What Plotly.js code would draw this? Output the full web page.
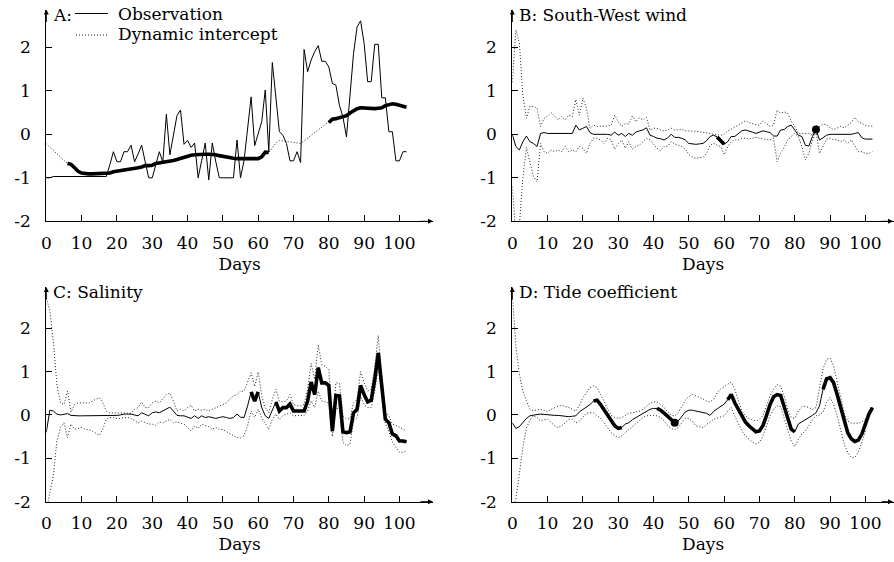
<!DOCTYPE html>
<html><head><meta charset="utf-8">
<script src="https://cdn.plot.ly/plotly-3.0.1.min.js"></script>
<style>html,body{margin:0;padding:0;background:#fff}</style>
</head><body><div id="chart" style="width:894px;height:562px"></div>
<script>
// ---------- DATA (daily values, day 0 .. 102) ----------
const obsA = [-1.0,-1.0,-0.97,-0.97,-0.97,-0.97,-0.97,-0.97,-0.97,-0.97,-0.97,-0.97,-0.97,-0.97,-0.97,-0.97,-0.97,-0.97,-0.7,-0.4,
-0.63,-0.63,-0.4,-0.4,-0.25,-0.63,-0.45,-0.25,-0.63,-1.0,-1.0,-0.67,-0.4,-0.63,0.46,-0.47,0.02,0.43,0.56,-0.23,
-0.14,-0.3,-0.2,-1.0,-0.6,-0.2,-1.05,-0.2,-0.63,-1.0,-1.0,-1.0,-1.0,-1.0,-0.13,-1.0,-0.6,0.15,0.86,-0.26,
0.02,0.29,1.02,-0.4,1.65,0.79,0.06,-0.02,-0.21,-0.61,-0.61,-0.4,-0.65,1.95,1.44,1.71,1.9,2.04,1.68,1.68,
1.55,1.17,1.13,0.67,0.4,-0.06,0.94,1.86,2.47,2.61,2.09,1.21,1.21,2.07,2.07,0.84,0.84,0.06,0.06,-0.61,
-0.61,-0.4,-0.4];
const interceptA = [-0.22,-0.3,-0.37,-0.45,-0.52,-0.6,-0.67,-0.69,-0.77,-0.85,-0.89,-0.91,-0.91,-0.91,-0.91,-0.91,-0.91,-0.91,-0.89,-0.86,
-0.85,-0.84,-0.83,-0.82,-0.8,-0.79,-0.77,-0.75,-0.72,-0.72,-0.71,-0.67,-0.66,-0.65,-0.64,-0.62,-0.6,-0.58,-0.55,-0.52,
-0.5,-0.48,-0.47,-0.46,-0.46,-0.46,-0.46,-0.46,-0.47,-0.49,-0.51,-0.53,-0.54,-0.55,-0.56,-0.56,-0.56,-0.56,-0.56,-0.56,
-0.56,-0.52,-0.41,-0.42,-0.3,-0.2,-0.14,-0.15,-0.17,-0.18,-0.19,-0.2,-0.21,-0.15,-0.09,-0.03,0.03,0.09,0.15,0.21,
0.27,0.35,0.36,0.38,0.4,0.43,0.49,0.55,0.59,0.61,0.6,0.59,0.59,0.59,0.6,0.61,0.66,0.69,0.7,0.69,
0.67,0.65,0.62];
const sigA = [[6,63],[80,102]];

const estB = [0,-0.28,-0.36,-0.17,-0.04,-0.17,-0.21,-0.28,0.02,0.04,0.02,0.02,0.02,0.02,0.02,0.02,0.02,0.02,0.21,0.1,
0.14,0.18,0.04,0,0,0,0,0,-0.02,0.05,-0.02,0.02,-0.05,0.02,-0.02,0.05,0.08,0.1,0.15,-0.02,
-0.05,-0.09,-0.1,-0.13,-0.08,0,-0.07,-0.07,-0.09,-0.13,-0.21,-0.22,-0.23,-0.22,-0.21,-0.15,-0.05,-0.02,-0.06,-0.15,
-0.23,-0.17,-0.05,-0.05,0.02,0.08,0.1,0.08,0.05,0.02,0.05,0.08,0.06,0.04,-0.04,-0.04,0.1,0.11,0.18,0.21,
0.1,-0.02,-0.05,-0.25,-0.27,-0.05,0.11,-0.13,-0.08,-0.02,0,0,0,0.01,0,0.01,0,0.02,0.04,-0.08,
-0.11,-0.11,-0.11];
const upperB = [1.2,2.4,2.1,0.9,0.37,0.65,0.64,0.6,0.18,0.37,0.42,0.5,0.42,0.33,0.41,0.33,0.44,0.41,0.8,0.44,
0.83,0.6,0.14,0.21,0.18,0.18,0.18,0.19,0.21,0.44,0.29,0.18,0.24,0.24,0.42,0.29,0.38,0.33,0.39,0.1,
0.14,0.14,0.1,0.08,0.1,0.14,0.1,0.1,0.11,0.08,0.08,0.07,0.07,0.06,0.05,0.04,0.02,0.0,-0.01,-0.02,
0.0,0.08,0.12,0.17,0.21,0.26,0.31,0.27,0.24,0.22,0.21,0.31,0.25,0.18,0.21,0.56,0.48,0.52,0.48,0.3,
0.18,0.02,0.02,0.02,0.02,-0.02,0.2,0.18,0.24,0.22,0.14,0.11,0.14,0.18,0.15,0.21,0.27,0.39,0.29,0.25,
0.21,0.19,0.19];
const lowerB = [-1.2,-2.3,-2.1,-1.0,-0.3,-0.67,-0.97,-1.09,-0.21,-0.4,-0.44,-0.36,-0.4,-0.36,-0.4,-0.28,-0.4,-0.36,-0.4,-0.28,
-0.32,-0.44,-0.21,-0.09,-0.09,-0.13,-0.21,-0.09,-0.13,-0.34,-0.21,-0.13,-0.32,-0.17,-0.34,-0.28,-0.25,-0.17,-0.09,-0.13,
-0.23,-0.32,-0.38,-0.28,-0.27,-0.17,-0.22,-0.25,-0.28,-0.34,-0.47,-0.52,-0.55,-0.54,-0.53,-0.44,-0.25,-0.21,-0.24,-0.28,
-0.47,-0.28,-0.17,-0.13,-0.13,-0.09,-0.09,-0.11,-0.09,-0.07,-0.09,-0.11,-0.12,-0.13,-0.09,-0.63,-0.44,-0.3,-0.13,-0.05,
0.02,-0.05,-0.28,-0.59,-0.44,-0.13,0.06,-0.44,-0.28,-0.11,-0.09,-0.13,-0.13,-0.17,-0.13,-0.21,-0.13,-0.28,-0.4,-0.4,
-0.44,-0.44,-0.4];
const sigB = [[58,60]];
const dotsB = [86];

const estC = [-0.4,0.11,0.09,0.02,0,0.02,0.03,-0.01,-0.02,-0.02,-0.02,-0.02,-0.02,-0.02,-0.02,-0.02,-0.02,-0.01,-0.02,-0.01,
-0.01,0,0.02,0.02,0.02,0,-0.02,0.05,0.02,-0.02,0.05,0.07,0.05,0.09,0.13,0.18,0.09,-0.01,-0.02,-0.02,
-0.05,-0.08,-0.02,-0.08,-0.02,-0.06,-0.04,-0.06,-0.08,-0.06,-0.04,-0.06,-0.08,-0.06,0.02,-0.05,-0.06,0.21,0.53,0.32,
0.53,0.17,-0.02,-0.08,0.13,0.3,0.09,0.17,0.17,0.25,0.09,0.09,0.09,0.09,0.32,0.76,0.47,1.09,0.74,0.74,
0.68,-0.37,0.45,0.44,-0.39,-0.41,-0.39,0.05,0.13,0.68,0.47,0.3,0.34,0.82,1.43,0.67,-0.1,-0.18,-0.44,-0.48,
-0.6,-0.6,-0.62];
const upperC = [2.7,2.4,1.7,0.7,0.28,0.24,0.55,0.07,0.24,0.28,0.28,0.28,0.27,0.32,0.37,0.4,0.28,0.09,0.05,0.05,
0.05,0.05,0.05,0.05,0.04,0.13,0.17,0.3,0.17,0.17,0.28,0.32,0.28,0.37,0.47,0.5,0.32,0.09,0.13,0.09,
0.17,0.22,0.09,0.13,0.11,0.13,0.09,0.13,0.17,0.21,0.24,0.28,0.36,0.44,0.47,0.55,0.55,0.74,0.97,0.66,
0.99,0.44,0.17,0.05,0.36,0.59,0.32,0.3,0.32,0.47,0.24,0.21,0.21,0.24,0.59,1.19,0.82,1.62,1.16,1.12,
1.05,-0.2,0.74,0.73,-0.02,-0.1,-0.08,0.28,0.36,1.0,0.74,0.55,0.59,1.09,1.83,0.89,0.05,-0.02,-0.21,-0.24,
-0.29,-0.33,-0.37];
const lowerC = [-2.2,-1.8,-1.4,-0.6,-0.3,-0.18,-0.52,-0.21,-0.33,-0.31,-0.29,-0.33,-0.34,-0.37,-0.42,-0.47,-0.33,-0.1,-0.06,-0.06,
-0.08,-0.08,-0.06,-0.06,-0.08,-0.14,-0.18,-0.14,-0.18,-0.21,-0.21,-0.24,-0.16,-0.18,-0.14,-0.1,-0.18,-0.16,-0.19,-0.21,
-0.29,-0.37,-0.25,-0.31,-0.21,-0.25,-0.27,-0.33,-0.29,-0.33,-0.34,-0.39,-0.44,-0.47,-0.52,-0.53,-0.47,-0.25,0.09,-0.06,
0.13,-0.06,-0.21,-0.33,-0.1,0.02,-0.1,-0.01,0.02,0.05,-0.02,-0.02,-0.02,-0.01,0.09,0.32,0.17,0.55,0.32,0.3,
0.28,-0.5,0.17,0.13,-0.63,-0.71,-0.67,-0.14,-0.06,0.43,0.24,0.17,0.17,0.55,1.09,0.47,-0.21,-0.37,-0.63,-0.75,
-0.86,-0.86,-0.83];
const sigC = [[58,60],[65,102]];

const estD = [-0.18,-0.31,-0.27,-0.18,-0.08,-0.02,0,0.01,0.02,0.01,0,0,-0.01,-0.01,-0.02,-0.03,-0.04,-0.03,-0.02,0.07,
0.13,0.17,0.24,0.32,0.34,0.24,0.11,-0.02,-0.15,-0.25,-0.31,-0.29,-0.21,-0.18,-0.11,-0.06,-0.01,0.03,0.09,0.13,
0.15,0.15,0.11,0.04,-0.04,-0.12,-0.18,-0.14,-0.02,0.07,0.11,0.11,0.09,0.07,0.06,0.04,-0.01,0.08,0.14,0.19,
0.25,0.35,0.47,0.28,0.13,-0.02,-0.16,-0.25,-0.33,-0.39,-0.37,-0.24,-0.01,0.24,0.42,0.47,0.45,0.17,-0.1,-0.33,
-0.39,-0.21,-0.16,-0.1,-0.06,-0.01,0.05,0.21,0.59,0.83,0.86,0.74,0.47,0.17,-0.14,-0.41,-0.55,-0.61,-0.58,-0.44,
-0.21,0.02,0.17];
const upperD = [2.8,1.6,0.95,0.55,0.33,0.13,0.1,0.12,0.13,0.11,0.07,0.13,0.17,0.2,0.22,0.2,0.17,0.13,0.09,0.22,
0.4,0.51,0.63,0.67,0.63,0.47,0.32,0.13,-0.01,-0.06,-0.08,-0.06,-0.01,0.04,0.05,0.07,0.09,0.13,0.21,0.27,
0.3,0.3,0.24,0.17,0.07,-0.01,-0.02,0.05,0.2,0.34,0.42,0.47,0.44,0.41,0.37,0.32,0.3,0.36,0.51,0.6,
0.66,0.72,0.76,0.59,0.32,0.09,-0.02,-0.08,-0.11,-0.14,-0.1,-0.01,0.21,0.44,0.59,0.7,0.66,0.44,0.13,-0.06,
-0.08,0.09,0.19,0.2,0.17,0.13,0.17,0.59,1.06,1.28,1.31,1.12,0.74,0.36,0.05,-0.14,-0.19,-0.19,-0.19,-0.16,
-0.1,null,null];
const lowerD = [-2.2,-1.95,-1.35,-0.75,-0.3,-0.12,-0.02,-0.06,-0.14,-0.11,-0.1,-0.18,-0.25,-0.29,-0.25,-0.18,-0.1,-0.1,-0.18,-0.14,
-0.06,0.04,0.05,0.05,-0.01,-0.08,-0.18,-0.29,-0.41,-0.48,-0.52,-0.48,-0.41,-0.33,-0.25,-0.18,-0.12,-0.06,-0.02,-0.01,
-0.01,-0.02,-0.06,-0.14,-0.24,-0.31,-0.34,-0.29,-0.18,-0.08,-0.08,-0.15,-0.25,-0.27,-0.29,-0.22,-0.17,-0.1,-0.07,-0.05,
-0.02,0.09,0.17,-0.02,-0.21,-0.37,-0.48,-0.56,-0.63,-0.67,-0.63,-0.48,-0.25,-0.02,0.13,0.21,0.19,-0.06,-0.33,-0.6,
-0.73,-0.56,-0.44,-0.37,-0.25,-0.11,-0.02,0,0.06,0.29,0.4,0.24,-0.02,-0.37,-0.67,-0.86,-0.98,-0.98,-0.86,-0.63,
-0.37,null,null];
const sigD = [[23,31],[41,46],[61,80],[88,102]];
const dotsD = [46];

const xTickVals = [0,10,20,30,40,50,60,70,80,90,100];
const xTickText = ['0','10','20','30','40','50','60','70','80','90','100'];
const yTickVals = [-2,-1,0,1,2];
const yTickText = ['-2','-1','0','1','2'];

const panelTitles = ['A:', 'B: South-West wind', 'C: Salinity', 'D: Tide coefficient'];
const legendLabels = ['Observation', 'Dynamic intercept'];

// ---------- helpers ----------
const days = obsA.map((_, i) => i);
function sigOnly(arr, ranges) {
  return arr.map((v, i) => ranges.some(r => i >= r[0] && i <= r[1]) ? v : null);
}
const FONT = {family: 'DejaVu Serif', size: 17, color: '#000'};
const DOT = {color: '#222', width: 1, dash: '1px,2px'};
const THIN = {color: '#000', width: 1};
const THICK = {color: '#000', width: 3.6};

const traces = [];
function add(y, line, ax, extra) {
  traces.push(Object.assign({x: days, y: y, mode: 'lines', line: line, xaxis: 'x' + ax, yaxis: 'y' + ax,
    hoverinfo: 'skip', showlegend: false, connectgaps: false}, extra || {}));
}
// Panel A
add(interceptA, DOT, 1);
add(obsA, THIN, 1);
add(sigOnly(interceptA, sigA), THICK, 1);
// Panel B
add(upperB, DOT, 2); add(lowerB, DOT, 2);
add(estB, THIN, 2);
add(sigOnly(estB, sigB), THICK, 2);
traces.push({x: dotsB, y: dotsB.map(d => estB[d]), mode: 'markers', marker: {color: '#000', size: 8},
  xaxis: 'x2', yaxis: 'y2', showlegend: false, hoverinfo: 'skip'});
// Panel C
add(upperC, DOT, 3); add(lowerC, DOT, 3);
add(estC, THIN, 3);
add(sigOnly(estC, sigC), THICK, 3);
// Panel D
add(upperD, DOT, 4); add(lowerD, DOT, 4);
add(estD, THIN, 4);
add(sigOnly(estD, sigD), THICK, 4);
traces.push({x: dotsD, y: dotsD.map(d => estD[d]), mode: 'markers', marker: {color: '#000', size: 8},
  xaxis: 'x4', yaxis: 'y4', showlegend: false, hoverinfo: 'skip'});

// ---------- layout ----------
const W = 894, H = 562;
const panels = [
  {xd: [46.3 / W, 433 / W], xr: [0, 109.5], yd: [1 - 221.3 / H, 1 - 9.5 / H], yr: [-2, 2.87]},
  {xd: [512.3 / W, 1], xr: [0, 108.1], yd: [1 - 221.3 / H, 1 - 9.5 / H], yr: [-2, 2.87]},
  {xd: [46.3 / W, 433 / W], xr: [0, 109.5], yd: [1 - 501.7 / H, 1 - 287 / H], yr: [-2, 2.95]},
  {xd: [512.3 / W, 1], xr: [0, 108.1], yd: [1 - 501.7 / H, 1 - 287 / H], yr: [-2, 2.95]}
];
const layout = {
  width: W, height: H, autosize: false,
  margin: {l: 0, r: 0, t: 0, b: 0, pad: 0},
  paper_bgcolor: '#fff', plot_bgcolor: '#fff',
  font: FONT, showlegend: false,
  annotations: [], shapes: []
};
panels.forEach((p, k) => {
  const i = k + 1, o = k + 5;
  layout['xaxis' + i] = {domain: p.xd, range: p.xr, anchor: 'y' + i, showline: true, linecolor: '#000', linewidth: 1,
    ticks: 'inside', ticklen: 6, tickcolor: '#000', tickmode: 'array', tickvals: xTickVals, ticktext: xTickText,
    showgrid: false, zeroline: false, tickfont: FONT, ticklabelstandoff: 6, fixedrange: true,
    title: {text: 'Days', font: FONT, standoff: 6}};
  layout['yaxis' + i] = {domain: p.yd, range: p.yr, anchor: 'x' + i, showline: true, linecolor: '#000', linewidth: 1,
    ticks: 'inside', ticklen: 6, tickcolor: '#000', tickmode: 'array', tickvals: yTickVals, ticktext: yTickText,
    showgrid: false, zeroline: false, tickfont: FONT, ticklabelstandoff: 11, fixedrange: true};
  layout['xaxis' + o] = {overlaying: 'x' + i, anchor: 'y' + i, range: p.xr, showline: false, ticks: 'outside', ticklen: 6,
    tickcolor: '#000', tickmode: 'array', tickvals: xTickVals.slice(1), showticklabels: false, showgrid: false, zeroline: false, fixedrange: true};
  layout['yaxis' + o] = {overlaying: 'y' + i, anchor: 'x' + i, side: 'left', range: p.yr, showline: false, ticks: 'outside', ticklen: 6,
    tickcolor: '#000', tickmode: 'array', tickvals: yTickVals.slice(1), showticklabels: false, showgrid: false, zeroline: false, fixedrange: true};
  layout.annotations.push({xref: 'paper', yref: 'paper', x: p.xd[1], y: p.yd[0], ax: -14, ay: 0, axref: 'pixel', ayref: 'pixel',
    text: '', showarrow: true, arrowhead: 2, arrowsize: 1, arrowwidth: 1, arrowcolor: '#000', standoff: 0});
  layout.annotations.push({xref: 'paper', yref: 'paper', x: p.xd[0], y: p.yd[1], ax: 0, ay: 14, axref: 'pixel', ayref: 'pixel',
    text: '', showarrow: true, arrowhead: 2, arrowsize: 1, arrowwidth: 1, arrowcolor: '#000', standoff: 0});
  layout.annotations.push({xref: 'paper', yref: 'paper', x: p.xd[0] + 5 / W, y: p.yd[1] - 5 / H,
    xanchor: 'left', yanchor: 'middle', text: panelTitles[k], showarrow: false, font: FONT});
});
layout.annotations.push({xref: 'paper', yref: 'paper', x: 116 / W, y: 1 - 14 / H, xanchor: 'left', yanchor: 'middle',
  text: legendLabels[0], showarrow: false, font: FONT});
layout.annotations.push({xref: 'paper', yref: 'paper', x: 116 / W, y: 1 - 34 / H, xanchor: 'left', yanchor: 'middle',
  text: legendLabels[1], showarrow: false, font: FONT});
layout.shapes.push({type: 'line', xref: 'paper', yref: 'paper', x0: 75 / W, x1: 108 / W, y0: 1 - 13.5 / H, y1: 1 - 13.5 / H,
  line: {color: '#000', width: 1}});
layout.shapes.push({type: 'line', xref: 'paper', yref: 'paper', x0: 76 / W, x1: 109 / W, y0: 1 - 35 / H, y1: 1 - 35 / H,
  line: {color: '#222', width: 1, dash: '1px,2px'}});

Plotly.newPlot('chart', traces, layout, {displayModeBar: false, staticPlot: true});
</script></body></html>
